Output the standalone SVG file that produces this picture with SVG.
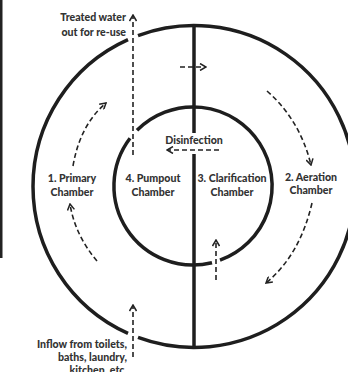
<svg xmlns="http://www.w3.org/2000/svg" width="348" height="372" viewBox="0 0 348 372">
<style>
.wall{fill:none;stroke:#1e1e1e;stroke-width:3.5}
.flow{fill:none;stroke:#222;stroke-width:1.6;stroke-dasharray:5 3}
.t{font-family:Lato,"Liberation Sans",sans-serif;font-weight:900;font-size:10.6px;fill:#333}
</style>
<defs>
<marker id="ah" viewBox="0 0 8 8" refX="7" refY="4" markerWidth="8" markerHeight="8" markerUnits="userSpaceOnUse" orient="auto">
<path d="M1,0.5 L7,4 L1,7.5" fill="none" stroke="#222" stroke-width="1.5"/>
</marker>
</defs>
<rect x="0" y="0" width="2.5" height="258" fill="#222"/>
<g id="tank">
<path class="wall" d="M138,35.55 A161,161 0 1 1 138,337.45 M128,333.35 A161,161 0 0 1 128,39.65"/>
<path class="wall" d="M137,130.3 A79,79 0 1 1 220,260.2 M212,262.7 A79,79 0 0 1 130,138.3"/>
<line class="wall" x1="194" y1="25" x2="194" y2="348"/>
<rect x="164" y="133" width="60" height="21" fill="#fff"/>
</g>
<g id="connectors">
<line class="flow" x1="133" y1="155" x2="133" y2="15" marker-end="url(#ah)"/>
<line class="flow" x1="133" y1="357" x2="133" y2="305" marker-end="url(#ah)"/>
<line class="flow" x1="216" y1="280" x2="216" y2="240" marker-end="url(#ah)"/>
<line class="flow" x1="180" y1="67" x2="206" y2="67" marker-end="url(#ah)"/>
<line class="flow" x1="219" y1="150" x2="167" y2="150" marker-end="url(#ah)"/>
<path class="flow" d="M73,166 Q80,125 106,103" marker-end="url(#ah)"/>
<path class="flow" d="M97,261 Q75,235 70,204" marker-end="url(#ah)"/>
<path class="flow" d="M267,91 Q300,120 311,165" marker-end="url(#ah)"/>
<path class="flow" d="M312,203 Q300,255 266,283" marker-end="url(#ah)"/>
</g>
<g id="labels">
<text class="t" x="126" y="21" text-anchor="end">Treated water</text>
<text class="t" x="126" y="36" text-anchor="end">out for re-use</text>
<text class="t" x="194" y="144" text-anchor="middle">Disinfection</text>
<text class="t" x="72" y="182" text-anchor="middle">1. Primary</text>
<text class="t" x="72" y="196" text-anchor="middle">Chamber</text>
<text class="t" x="153" y="182" text-anchor="middle">4. Pumpout</text>
<text class="t" x="153" y="196" text-anchor="middle">Chamber</text>
<text class="t" x="232" y="182" text-anchor="middle">3. Clarification</text>
<text class="t" x="232" y="196" text-anchor="middle">Chamber</text>
<text class="t" x="311" y="181" text-anchor="middle">2. Aeration</text>
<text class="t" x="311" y="194" text-anchor="middle">Chamber</text>
<text class="t" x="127" y="348" text-anchor="end">Inflow from toilets,</text>
<text class="t" x="127" y="361" text-anchor="end">baths, laundry,</text>
<text class="t" x="127" y="374" text-anchor="end">kitchen, etc.</text>
</g>
</svg>
